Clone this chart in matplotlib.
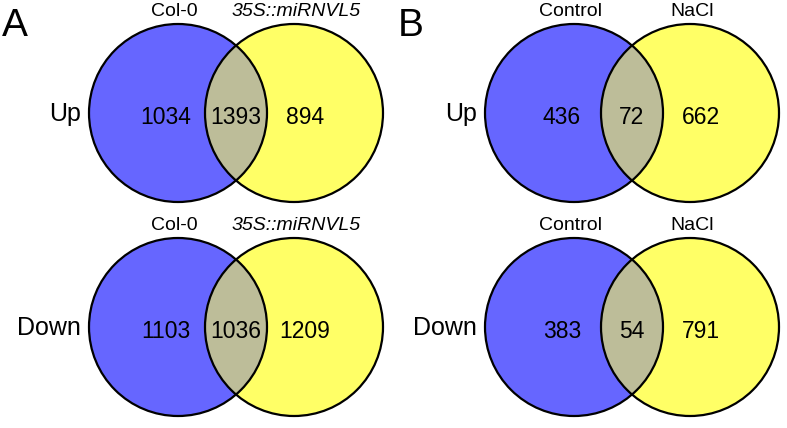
import matplotlib.pyplot as plt
from matplotlib.patches import Circle

plt.rcParams['font.family'] = ['Liberation Sans', 'DejaVu Sans']

# data
panels = ['A', 'B']
directions = ['Up', 'Down']
set_names = [('Col-0', '35S::miRNVL5'), ('Control', 'NaCl')]
italic_right = [True, False]
# (left only, shared, right only) per panel, per direction
counts = {
    'A': {'Up': (1034, 1393, 894), 'Down': (1103, 1036, 1209)},
    'B': {'Up': (436, 72, 662), 'Down': (383, 54, 791)},
}

blue = '#6666ff'
yellow = '#ffff66'
mix = '#bdbd99'

W, H = 787, 428
fig = plt.figure(figsize=(W / 100, H / 100), dpi=100)
ax = fig.add_axes([0, 0, 1, 1])
ax.set_xlim(0, W)
ax.set_ylim(H, 0)
ax.set_aspect('equal')
ax.axis('off')

r = 89
sep = 116
left_cx = [178, 574]
row_cy = [113, 327]

for pi, p in enumerate(panels):
    cx1 = left_cx[pi]
    cx2 = cx1 + sep
    ax.text(cx1 - 176, 26, p, fontsize=28, ha='left', va='center')
    for di, d in enumerate(directions):
        cy = row_cy[di]
        c1 = Circle((cx1, cy), r, facecolor=blue, edgecolor='none')
        c2 = Circle((cx2, cy), r, facecolor=yellow, edgecolor='none')
        ax.add_patch(c1)
        ax.add_patch(c2)
        both = Circle((cx1, cy), r, facecolor=mix, edgecolor='none')
        ax.add_patch(both)
        both.set_clip_path(c2)
        for cx in (cx1, cx2):
            ax.add_patch(Circle((cx, cy), r, facecolor='none',
                                edgecolor='black', lw=1.6))
        a, b, c = counts[p][d]
        ty = cy + 4
        ax.text(cx1 - 12, ty, str(a), fontsize=16.5, ha='center', va='center')
        ax.text((cx1 + cx2) / 2, ty, str(b), fontsize=16.5, ha='center', va='center')
        ax.text(cx2 + 11, ty, str(c), fontsize=16.5, ha='center', va='center')
        ax.text(cx1 - r - 8, cy + 1, d, fontsize=18, ha='right', va='center')
        n1, n2 = set_names[pi]
        ax.text(cx1 - 4, cy - r - 13, n1, fontsize=14, ha='center', va='center')
        ax.text(cx2 + 2, cy - r - 13, n2, fontsize=14, ha='center', va='center',
                style='italic' if italic_right[pi] else 'normal')

fig.savefig('out.png', dpi=100)
